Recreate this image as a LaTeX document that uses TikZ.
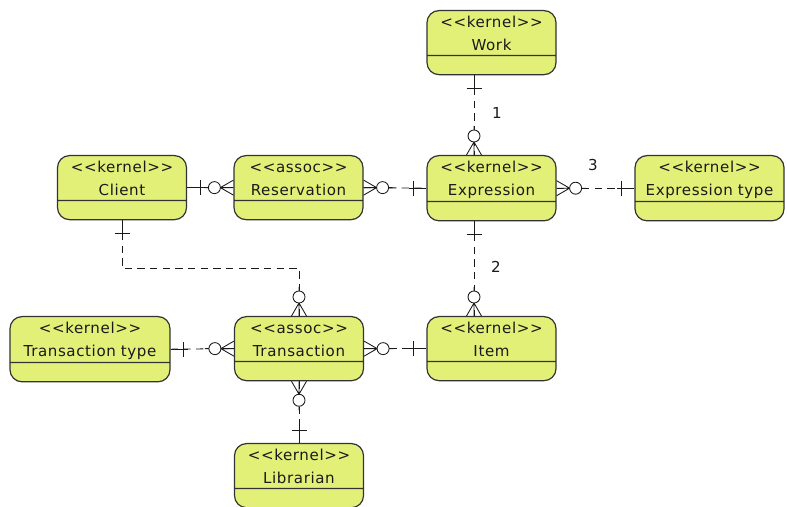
\documentclass[tikz,border=0pt]{standalone}
\usepackage{fontspec}
\setmainfont{DejaVu Sans}[LetterSpace=4]
\usepackage{xcolor}
\usetikzlibrary{shapes.multipart,calc}
\definecolor{entfill}{HTML}{E3F078}
\definecolor{entline}{HTML}{333333}
\definecolor{ink}{HTML}{1A1A1A}
\newcommand{\umlhead}[2]{\rule{0pt}{10pt}{<}{<}#1{>}{>}\\#2\rule[-1.5pt]{0pt}{1.5pt}}
\newcommand{\umlfoot}{\rule{0pt}{9.5pt}}
\tikzset{
  entity/.style={rectangle split, rectangle split parts=2,
                 draw=entline, fill=entfill, line width=0.9pt,
                 rounded corners=9pt, text width=96.75pt, align=center,
                 inner xsep=0pt, inner ysep=2pt, anchor=north, text=ink,
                 font=\fontsize{11.3pt}{17.25pt}\selectfont},
  rel/.style={draw=ink, line width=0.65pt, dash pattern=on 5.5pt off 4pt},
  card/.style={text=ink, font=\fontsize{11.3pt}{13pt}\selectfont},
  onemark/.pic={
    \draw[ink,line width=0.65pt] (0,0) -- (17,0) (13,-7.5) -- (13,7.5);
  },
  manymark/.pic={
    \draw[ink,line width=0.65pt] (0,-7.5) -- (13,0) -- (0,7.5) (0,0) -- (13,0) (25,0) -- (29,0);
    \draw[ink,line width=0.65pt,fill=white] (19,0) circle (6);
  }
}
\begin{document}
\begin{tikzpicture}[x=0.75pt,y=0.75pt]
  \useasboundingbox (0,0) rectangle (787,506);
  % entities
  \node[entity] (work) at (491.5,496) {\umlhead{kernel}{Work}\nodepart{two}\umlfoot};
  \node[entity] (client) at (122,351) {\umlhead{kernel}{Client}\nodepart{two}\umlfoot};
  \node[entity] (reserv) at (298.5,351) {\umlhead{assoc}{Reservation}\nodepart{two}\umlfoot};
  \node[entity] (expr) at (491.5,351) {\umlhead{kernel}{Expression}\nodepart{two}\umlfoot};
  \node[entity,text width=111.75pt] (exprtype) at (709.5,351) {\umlhead{kernel}{Expression type}\nodepart{two}\umlfoot};
  \node[entity,text width=120pt] (transtype) at (90,190) {\umlhead{kernel}{Transaction type}\nodepart{two}\umlfoot};
  \node[entity] (trans) at (299,190) {\umlhead{assoc}{Transaction}\nodepart{two}\umlfoot};
  \node[entity] (item) at (491.5,190) {\umlhead{kernel}{Item}\nodepart{two}\umlfoot};
  \node[entity] (libr) at (299,63) {\umlhead{kernel}{Librarian}\nodepart{two}\umlfoot};

  % relations
  \draw[rel] ($(work.south)+(-17.5,0)$) -- ($(expr.north)+(-17.5,0)$);
  \draw[rel] ($(expr.south)+(-17.5,0)$) -- ($(item.north)+(-17.5,0)$);
  \draw[rel] (client.east) -- (reserv.west);
  \draw[rel] (reserv.east) -- (expr.west);
  \draw[rel] (expr.east) -- (exprtype.west);
  \draw[rel] (client.south) -- ++(0,-48) -| (trans.north);
  \draw[rel] (transtype.east) -- (trans.west);
  \draw[rel] (trans.east) -- (item.west);
  \draw[rel] (trans.south) -- (libr.north);

  % ends
  \pic[rotate=-90] at ($(work.south)+(-17.5,0)$) {onemark};
  \pic[rotate=90] at ($(expr.north)+(-17.5,0)$) {manymark};
  \pic[rotate=-90] at ($(expr.south)+(-17.5,0)$) {onemark};
  \pic[rotate=90] at ($(item.north)+(-17.5,0)$) {manymark};
  \pic at (client.east) {onemark};
  \pic[rotate=180] at (reserv.west) {manymark};
  \pic at (reserv.east) {manymark};
  \pic[rotate=180] at (expr.west) {onemark};
  \pic at (expr.east) {manymark};
  \pic[rotate=180] at (exprtype.west) {onemark};
  \pic[rotate=-90] at (client.south) {onemark};
  \pic[rotate=90] at (trans.north) {manymark};
  \pic at (transtype.east) {onemark};
  \pic[rotate=180] at (trans.west) {manymark};
  \pic at (trans.east) {manymark};
  \pic[rotate=180] at (item.west) {onemark};
  \pic[rotate=-90] at (trans.south) {manymark};
  \pic[rotate=90] at (libr.north) {onemark};

  % cardinality labels
  \node[card] (n1) at (497,393) {1};
  \node[card] (n2) at (496,239) {2};
  \node[card] (n3) at (593,341) {3};
\end{tikzpicture}
\end{document}
